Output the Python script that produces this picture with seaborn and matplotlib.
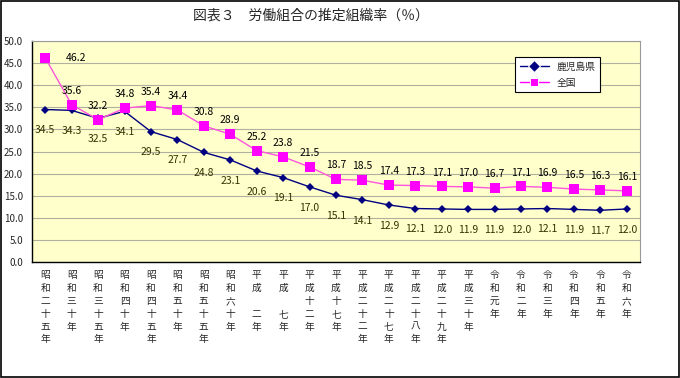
import pandas as pd
import matplotlib.pyplot as plt
from matplotlib.patches import Rectangle
from matplotlib.ticker import FormatStrFormatter, MultipleLocator
import seaborn as sns

sns.set_style("white")
plt.rcParams['font.family'] = ['Noto Sans CJK JP', 'DejaVu Sans']

years = ["昭和二十五年", "昭和三十年", "昭和三十五年", "昭和四十年", "昭和四十五年",
         "昭和五十年", "昭和五十五年", "昭和六十年", "平成　二年", "平成　七年",
         "平成十二年", "平成十七年", "平成二十二年", "平成二十七年", "平成二十八年",
         "平成二十九年", "平成三十年", "令和元年", "令和二年", "令和三年",
         "令和四年", "令和五年", "令和六年"]
kagoshima = [34.5, 34.3, 32.5, 34.1, 29.5, 27.7, 24.8, 23.1, 20.6, 19.1, 17.0, 15.1,
             14.1, 12.9, 12.1, 12.0, 11.9, 11.9, 12.0, 12.1, 11.9, 11.7, 12.0]
national = [46.2, 35.6, 32.2, 34.8, 35.4, 34.4, 30.8, 28.9, 25.2, 23.8, 21.5, 18.7,
            18.5, 17.4, 17.3, 17.1, 17.0, 16.7, 17.1, 16.9, 16.5, 16.3, 16.1]
series = ["鹿児島県", "全国"]

df = pd.concat([
    pd.DataFrame({"x": range(len(years)), "rate": kagoshima, "area": series[0]}),
    pd.DataFrame({"x": range(len(years)), "rate": national, "area": series[1]}),
])

fig = plt.figure(figsize=(6.8, 3.78), dpi=100)
ax = fig.add_axes([32 / 680, 1 - 262 / 378, 608 / 680, 221 / 378])
ax.set_facecolor("#FFFFCC")

sns.lineplot(data=df, x="x", y="rate", hue="area", style="area",
             palette={series[0]: "#000080", series[1]: "#FF00FF"},
             markers={series[0]: "D", series[1]: "s"}, dashes=False,
             linewidth=1.0, ax=ax, zorder=3)
for line, ms in zip(ax.lines[:2], [4, 7]):
    line.set_markersize(ms)
    line.set_markeredgewidth(0)
ax.lines[1].set_color("#FF55DD")
ax.lines[1].set_markerfacecolor("#FF00FF")

for i, v in enumerate(kagoshima):
    ax.annotate(f"{v:.1f}", (i, v), xytext=(0, -15), textcoords="offset points",
                ha="center", va="center", fontsize=7.5, color="#333300")
for i, v in enumerate(national):
    off = (22, 0) if i == 0 else (0, 10)
    ax.annotate(f"{v:.1f}", (i, v), xytext=off, textcoords="offset points",
                ha="center", va="center", fontsize=7.5, color="black")

ax.set_xlim(-0.5, len(years) - 0.5)
ax.set_ylim(0, 50)
ax.yaxis.set_major_locator(MultipleLocator(5))
ax.yaxis.set_major_formatter(FormatStrFormatter("%.1f"))
ax.grid(axis="y", color="#B0B0A0", linewidth=0.8)
ax.set_xticks(range(len(years)))
ax.set_xticklabels(["\n".join(y) for y in years], fontsize=7, linespacing=1.35, va="top")
ax.set_xticks([k - 0.5 for k in range(len(years) + 1)], minor=True)
ax.tick_params(axis="x", which="major", length=0, pad=6)
ax.tick_params(axis="x", which="minor", direction="in", length=3, color="black")
ax.tick_params(axis="y", direction="out", length=3, color="black", labelsize=7)
ax.set_xlabel("")
ax.set_ylabel("")
for side in ["left", "bottom"]:
    ax.spines[side].set_color("black")
    ax.spines[side].set_linewidth(1.0)
for side in ["top", "right"]:
    ax.spines[side].set_color("#999999")
    ax.spines[side].set_linewidth(0.8)

leg = ax.legend(loc="upper left", bbox_to_anchor=(0.786, 0.95), fontsize=7,
                frameon=True, fancybox=False, framealpha=1, edgecolor="black",
                handlelength=3, borderpad=0.5, labelspacing=0.6)
leg.get_frame().set_linewidth(0.8)

fig.text(311 / 680, 1 - 16 / 378, "図表３　労働組合の推定組織率（％）",
         ha="center", va="center", fontsize=10)
fig.patches.append(Rectangle((0.001, 0.002), 0.997, 0.996, transform=fig.transFigure,
                             fill=False, edgecolor="black", linewidth=1.2))

plt.savefig("out.png", dpi=100)
